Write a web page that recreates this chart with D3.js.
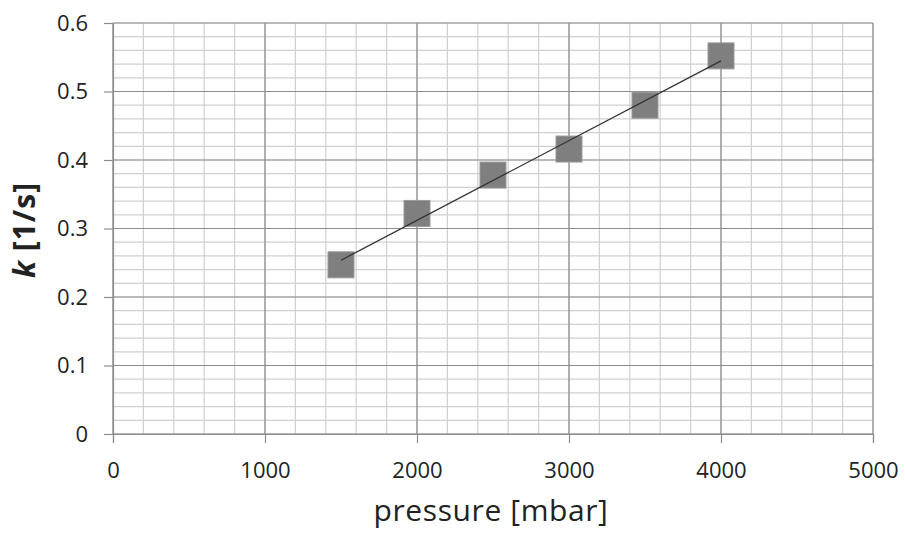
<!DOCTYPE html>
<html><head><meta charset="utf-8">
<script src="https://cdn.jsdelivr.net/npm/d3@7"></script>
<style>body{margin:0;background:#fff}svg{display:block}</style>
</head><body>
<svg id="c" width="905" height="533"></svg>
<script>
const pressure = [1500, 2000, 2500, 3000, 3500, 4000];
const kValues = [0.247, 0.322, 0.378, 0.416, 0.480, 0.552];
const xTicks = [0, 1000, 2000, 3000, 4000, 5000];
const yTicks = [0, 0.1, 0.2, 0.3, 0.4, 0.5, 0.6];

const svg = d3.select("#c");
const m = {l: 113, r: 873, t: 23, b: 434};
const x = d3.scaleLinear().domain([0, 5000]).range([m.l, m.r]);
const y = d3.scaleLinear().domain([0, 0.6]).range([m.b, m.t]);
const font = "'Open Sans', 'DejaVu Sans', sans-serif";

// minor grid
const g = svg.append("g");
g.selectAll(".vm").data(d3.range(0, 5001, 200)).join("line")
  .attr("x1", d => x(d)).attr("x2", d => x(d)).attr("y1", y(0)).attr("y2", y(0.6))
  .attr("stroke", "#d0d0d0").attr("stroke-width", 1.2);
g.selectAll(".hm").data(d3.range(0, 31).map(i => i * 0.02)).join("line")
  .attr("y1", d => y(d)).attr("y2", d => y(d)).attr("x1", x(0)).attr("x2", x(5000))
  .attr("stroke", "#d0d0d0").attr("stroke-width", 1.2);
// major grid
g.selectAll(".vM").data(xTicks).join("line")
  .attr("x1", d => x(d)).attr("x2", d => x(d)).attr("y1", y(0)).attr("y2", y(0.6))
  .attr("stroke", "#8c8c8c").attr("stroke-width", 1.2);
g.selectAll(".hM").data(yTicks).join("line")
  .attr("y1", d => y(d)).attr("y2", d => y(d)).attr("x1", x(0)).attr("x2", x(5000))
  .attr("stroke", "#8c8c8c").attr("stroke-width", 1.2);

// axes
const xa = svg.append("g").attr("transform", `translate(0,${y(0)})`)
  .call(d3.axisBottom(x).tickValues(xTicks).tickFormat(d3.format("d")).tickSize(9).tickPadding(19));
const ya = svg.append("g").attr("transform", `translate(${x(0)},0)`)
  .call(d3.axisLeft(y).tickValues(yTicks).tickFormat(d => d === 0 ? "0" : d3.format(".1f")(d)).tickSize(9).tickPadding(16));
[xa, ya].forEach(a => {
  a.select(".domain").attr("stroke", "#8c8c8c").attr("stroke-width", 1.2);
  a.selectAll(".tick line").attr("stroke", "#8c8c8c").attr("stroke-width", 1.2);
  a.selectAll("text").attr("font-family", font).attr("font-size", 22).attr("fill", "#222");
});

// trendline (least squares from data)
const mx = d3.mean(pressure), my = d3.mean(kValues);
const slope = d3.sum(pressure, (p, i) => (p - mx) * (kValues[i] - my)) / d3.sum(pressure, p => (p - mx) ** 2);
const icpt = my - slope * mx;
const x0 = d3.min(pressure), x1 = d3.max(pressure);

// markers
svg.append("g").selectAll("rect").data(pressure).join("rect")
  .attr("x", (d) => x(d) - 13).attr("y", (d, i) => y(kValues[i]) - 13)
  .attr("width", 26).attr("height", 26)
  .attr("fill", "#7f7f7f").attr("stroke", "#9a9a9a").attr("stroke-width", 1);

svg.append("line")
  .attr("x1", x(x0)).attr("y1", y(icpt + slope * x0))
  .attr("x2", x(x1)).attr("y2", y(icpt + slope * x1))
  .attr("stroke", "#333").attr("stroke-width", 1.3);

// axis titles
svg.append("text").attr("x", 491).attr("y", 521)
  .attr("text-anchor", "middle").attr("font-family", font).attr("font-size", 30)
  .attr("letter-spacing", 0.6).attr("fill", "#222")
  .text("pressure [mbar]");
const yl = svg.append("text").attr("transform", `translate(35,230) rotate(-90)`)
  .attr("text-anchor", "middle").attr("font-family", font).attr("font-size", 30).attr("font-weight", "bold")
  .attr("letter-spacing", 1).attr("fill", "#222");
yl.append("tspan").attr("font-style", "italic").text("k");
yl.append("tspan").text(" [1/s]");
</script>
</body></html>
